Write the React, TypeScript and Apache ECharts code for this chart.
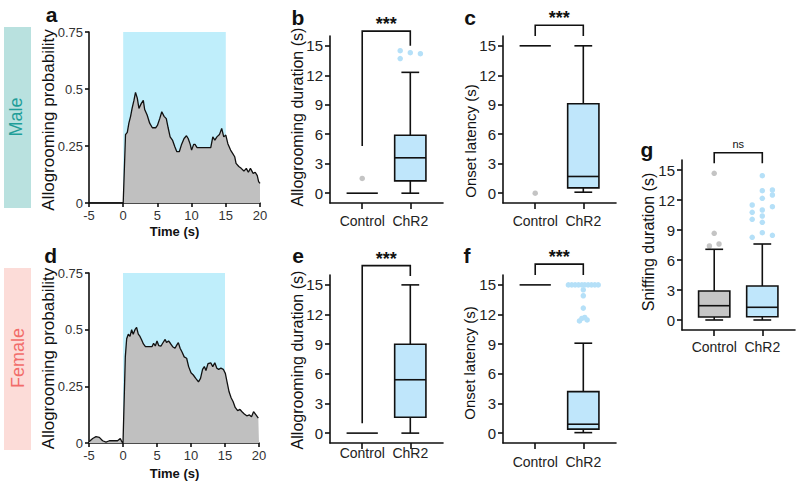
import React, { useEffect, useRef } from 'react';
import * as echarts from 'echarts';

const FONT = '"Liberation Sans", Arial, Helvetica, sans-serif';

// ---------- Panel a (male) allogrooming probability trace ----------
const maleTime = [-5, 0, 0.34, 0.6, 0.83, 1.08, 1.3, 1.57, 1.8, 2.06, 2.3, 2.65, 2.94, 3.14, 3.5, 3.87, 4.26, 4.75, 5.0, 5.34, 5.64, 5.98, 6.3, 6.57, 6.86, 7.2, 7.55, 7.84, 8.2, 8.5, 8.9, 9.25, 9.5, 9.8, 10.0, 10.3, 10.5, 10.8, 11.1, 11.6, 12.1, 12.45, 12.8, 13.1, 13.4, 13.7, 14.07, 14.4, 14.7, 15.0, 15.3, 15.7, 16.0, 16.3, 16.5, 16.9, 17.25, 17.65, 18.0, 18.3, 18.6, 19.0, 19.3, 19.6, 19.8, 20];
const maleProb = [0, 0, 0.3, 0.31, 0.35, 0.38, 0.415, 0.45, 0.485, 0.46, 0.415, 0.437, 0.45, 0.41, 0.386, 0.35, 0.33, 0.33, 0.34, 0.37, 0.4, 0.38, 0.37, 0.33, 0.29, 0.276, 0.247, 0.225, 0.225, 0.254, 0.283, 0.295, 0.283, 0.257, 0.232, 0.257, 0.257, 0.243, 0.243, 0.243, 0.243, 0.243, 0.243, 0.29, 0.276, 0.29, 0.3, 0.327, 0.29, 0.298, 0.26, 0.232, 0.218, 0.203, 0.174, 0.16, 0.152, 0.14, 0.152, 0.135, 0.152, 0.13, 0.135, 0.12, 0.094, 0.086];

// ---------- Panel d (female) allogrooming probability trace ----------
const femaleTime = [-5, -4.46, -3.97, -3.48, -3.0, -2.5, -2.0, -1.5, -0.8, -0.4, -0.15, 0, 0.34, 0.54, 0.78, 1.03, 1.27, 1.5, 1.76, 2.0, 2.25, 2.5, 2.75, 3.0, 3.3, 3.6, 4.0, 4.26, 4.5, 4.75, 5.0, 5.25, 5.6, 5.83, 6.2, 6.4, 6.7, 6.96, 7.3, 7.65, 7.9, 8.14, 8.4, 8.7, 9.0, 9.36, 9.65, 10.0, 10.34, 10.7, 11.1, 11.4, 11.7, 11.96, 12.2, 12.5, 12.9, 13.2, 13.5, 13.8, 14.07, 14.4, 14.75, 15.05, 15.3, 15.6, 15.9, 16.2, 16.5, 16.86, 17.2, 17.5, 17.84, 18.2, 18.6, 18.9, 19.2, 19.56, 19.9, 20];
const femaleProb = [0.006, 0.02, 0.028, 0.025, 0.01, 0.004, 0.01, 0.01, 0.01, 0.02, 0.004, 0, 0.38, 0.46, 0.48, 0.47, 0.5, 0.48, 0.5, 0.51, 0.48, 0.47, 0.454, 0.437, 0.425, 0.425, 0.425, 0.425, 0.44, 0.428, 0.45, 0.43, 0.428, 0.44, 0.457, 0.443, 0.45, 0.44, 0.425, 0.418, 0.432, 0.443, 0.418, 0.4, 0.38, 0.374, 0.337, 0.31, 0.3, 0.285, 0.27, 0.285, 0.325, 0.337, 0.32, 0.35, 0.354, 0.337, 0.354, 0.33, 0.325, 0.33, 0.325, 0.307, 0.27, 0.226, 0.2, 0.182, 0.157, 0.143, 0.148, 0.138, 0.128, 0.12, 0.124, 0.116, 0.138, 0.124, 0.11, 0.11];

// stimulation window (s)
const stimWindow = [0, 15];

// ---------- Box plots: [low whisker, Q1, median, Q3, high whisker] ----------
const groups = ['Control', 'ChR2'];
const yTicks = [0, 3, 6, 9, 12, 15];
const probTicks = [0, 0.25, 0.5, 0.75];

const maleDurControl = [0, 0, 0, 0, 0];
const maleDurChR2 = [0, 1.25, 3.6, 5.9, 12.3];
const maleDurControlOut = [[1, 1.5]];
const maleDurChR2Out = [[1.79, 14.5], [2.0, 14.3], [2.21, 14.2], [1.79, 13.7]];

const maleLatControl = [15, 15, 15, 15, 15];
const maleLatChR2 = [0.1, 0.54, 1.7, 9.1, 15];
const maleLatControlOut = [[1, 0]];

const femDurControl = [0, 0, 0, 0, 0];
const femDurChR2 = [0, 1.6, 5.4, 9.0, 15];

const femLatControl = [15, 15, 15, 15, 15];
const femLatChR2 = [0.05, 0.4, 0.9, 4.2, 9.1];
const femLatChR2Out = [[1.69, 15], [1.76, 15], [1.83, 15], [1.9, 15], [1.97, 15], [2.03, 15], [2.1, 15], [2.17, 15], [2.24, 15], [2.31, 15], [2.0, 14.5], [2.0, 13.9], [2.0, 12.65], [1.92, 11.35], [1.97, 11.6], [2.03, 11.7], [2.08, 11.45]];

const sniffControl = [0, 0.3, 1.43, 2.9, 7.07];
const sniffChR2 = [0, 0.33, 1.27, 3.4, 7.6];
const sniffControlOut = [[1, 14.67], [1, 8.67], [0.9, 7.4], [1.1, 7.6]];
const sniffChR2Out = [[2.0, 14.43], [2.0, 12.93], [2.21, 13.0], [2.21, 12.5], [2.0, 12.17], [1.79, 11.5], [1.79, 10.77], [2.0, 11.0], [2.21, 11.33], [2.0, 10.4], [1.79, 10.07], [2.0, 9.77], [2.0, 8.73], [1.79, 8.27], [2.21, 8.47]];

// significance brackets: [x1, leftBottom, x2, rightBottom, top], label
const brB = [1, 4.8, 2, 15.0, 16.5];
const brC = [1, 16.0, 2, 16.0, 17.1];
const brE = [1, 1.0, 2, 15.9, 16.95];
const brF = [1, 16.0, 2, 16.0, 17.1];
const brG = [1, 15.67, 2, 15.67, 16.73];

const BOX_W = 0.65;
const CAP_W = 0.37;
const X_MIN = 0.33;
const X_MAX = 2.68;

const INK = '#111';
const BLUE_FILL = '#bfe6fb';
const GREY_FILL = '#c6c6c6';
const BLUE_DOT = '#b5e0f8';
const GREY_DOT = '#c4c4c4';

function boxRender(fill: string) {
  return (params: any, api: any) => {
    const x = api.value(0);
    const lo = api.value(1), q1 = api.value(2), med = api.value(3), q3 = api.value(4), hi = api.value(5);
    const pL = api.coord([x, lo]);
    const p1 = api.coord([x, q1]);
    const pm = api.coord([x, med]);
    const p3 = api.coord([x, q3]);
    const pH = api.coord([x, hi]);
    const w = api.size([BOX_W, 0])[0];
    const cw = api.size([CAP_W, 0])[0];
    const cx = pm[0];
    const st = { stroke: INK, lineWidth: 1.6, fill: null };
    const ch: any[] = [];
    if (q1 > lo) {
      ch.push({ type: 'line', shape: { x1: cx, y1: pL[1], x2: cx, y2: p1[1] }, style: st });
      ch.push({ type: 'line', shape: { x1: cx - cw / 2, y1: pL[1], x2: cx + cw / 2, y2: pL[1] }, style: st });
    }
    if (hi > q3) {
      ch.push({ type: 'line', shape: { x1: cx, y1: pH[1], x2: cx, y2: p3[1] }, style: st });
      ch.push({ type: 'line', shape: { x1: cx - cw / 2, y1: pH[1], x2: cx + cw / 2, y2: pH[1] }, style: st });
    }
    if (q3 > q1) {
      ch.push({
        type: 'rect',
        shape: { x: cx - w / 2, y: p3[1], width: w, height: p1[1] - p3[1] },
        style: { fill, stroke: INK, lineWidth: 1.6 },
      });
    }
    ch.push({ type: 'line', shape: { x1: cx - w / 2, y1: pm[1], x2: cx + w / 2, y2: pm[1] }, style: st });
    return { type: 'group', children: ch };
  };
}

function bracketRender(label: string, fontSize: number, bold: boolean) {
  return (params: any, api: any) => {
    const a = api.coord([api.value(0), api.value(1)]);
    const b = api.coord([api.value(2), api.value(3)]);
    const t = api.coord([api.value(0), api.value(4)]);
    const st = { stroke: INK, lineWidth: 1.6, fill: null };
    return {
      type: 'group',
      children: [
        { type: 'polyline', shape: { points: [[a[0], a[1]], [a[0], t[1]], [b[0], t[1]], [b[0], b[1]]] }, style: st },
        {
          type: 'text',
          x: (a[0] + b[0]) / 2,
          y: t[1] - (bold ? 7 : 9),
          style: {
            text: label,
            fill: INK,
            fontSize,
            fontWeight: bold ? 'bold' : 'normal',
            fontFamily: FONT,
            textAlign: 'center',
            textVerticalAlign: 'middle',
          },
        },
      ],
    };
  };
}

const stimRender = (params: any, api: any) => {
  const p0 = api.coord([api.value(0), api.value(3)]);
  const p1 = api.coord([api.value(1), api.value(2)]);
  return {
    type: 'rect',
    shape: { x: p0[0], y: p0[1], width: p1[0] - p0[0], height: p1[1] - p0[1] },
    style: { fill: '#bfeefb' },
  };
};

const axisLineStyle = { color: INK, width: 1.6 };

function probX(gi: number) {
  return {
    type: 'value', gridIndex: gi, min: -5, max: 20, interval: 5,
    axisLine: { show: true, onZero: false, lineStyle: axisLineStyle },
    axisTick: { show: true, length: 4, lineStyle: axisLineStyle },
    axisLabel: { margin: 6, fontSize: 13, color: '#333', fontFamily: FONT },
    splitLine: { show: false },
  };
}
function probY(gi: number) {
  return {
    type: 'value', gridIndex: gi, min: 0, max: 0.75, interval: 0.25,
    axisLine: { show: true, onZero: false, lineStyle: axisLineStyle },
    axisTick: { show: true, length: 4, lineStyle: axisLineStyle },
    axisLabel: { margin: 6, fontSize: 13, color: '#333', fontFamily: FONT, customValues: probTicks },
    splitLine: { show: false },
  };
}
function boxX(gi: number, margin: number) {
  return {
    type: 'value', gridIndex: gi, min: X_MIN, max: X_MAX,
    axisLine: { show: true, onZero: false, lineStyle: axisLineStyle },
    axisTick: { show: true, length: 6, lineStyle: axisLineStyle, customValues: [1, 2] },
    axisLabel: {
      margin, fontSize: 14, color: '#222', fontFamily: FONT, customValues: [1, 2],
      formatter: (v: number) => groups[Math.round(v) - 1] || '',
    },
    splitLine: { show: false },
  };
}
function boxY(gi: number) {
  return {
    type: 'value', gridIndex: gi, min: -1, max: 16,
    axisLine: { show: true, onZero: false, lineStyle: axisLineStyle },
    axisTick: { show: true, length: 5, lineStyle: axisLineStyle, customValues: yTicks },
    axisLabel: { margin: 7, fontSize: 15, color: '#222', fontFamily: FONT, customValues: yTicks },
    splitLine: { show: false },
  };
}

function boxSeries(gi: number, stats: number[][], fills: string[]) {
  return stats.map((s, i) => ({
    type: 'custom', xAxisIndex: gi, yAxisIndex: gi, z: 3,
    renderItem: boxRender(fills[i]),
    data: [[i + 1, ...s]],
    silent: true,
  }));
}
function dots(gi: number, data: number[][], color: string) {
  return {
    type: 'scatter', xAxisIndex: gi, yAxisIndex: gi, z: 2,
    symbolSize: 5.5, itemStyle: { color, opacity: 1 }, data, silent: true,
  };
}
function bracket(gi: number, br: number[], label: string, fs: number, bold: boolean) {
  return {
    type: 'custom', xAxisIndex: gi, yAxisIndex: gi, z: 4, clip: false,
    renderItem: bracketRender(label, fs, bold), data: [br], silent: true,
  };
}

function txt(text: string, x: number, y: number, size: number, opts: any = {}) {
  return {
    type: 'text', x, y, rotation: opts.rot ? Math.PI / 2 : 0, z: 10,
    style: {
      text, fill: opts.color || INK, fontSize: size, fontFamily: FONT,
      fontWeight: opts.bold ? 'bold' : 'normal',
      textAlign: 'center', textVerticalAlign: 'middle',
    },
  };
}

export default function App() {
  const ref = useRef<HTMLDivElement>(null);
  useEffect(() => {
    if (!ref.current) return;
    const chart = echarts.init(ref.current, null, { renderer: 'svg' });
    const grids = [
      { left: 89, top: 32, width: 171, height: 171 }, // a
      { left: 89, top: 273, width: 170, height: 170 }, // d
      { left: 330, top: 36, width: 113, height: 167 }, // b
      { left: 503, top: 36, width: 113, height: 167 }, // c
      { left: 330, top: 275, width: 113, height: 168 }, // e
      { left: 503, top: 275, width: 113, height: 168 }, // f
      { left: 682, top: 160, width: 113, height: 170 }, // g
    ].map((g) => ({ ...g, outerBoundsMode: 'none', containLabel: false }));

    const trace = (gi: number, t: number[], v: number[]) => ({
      type: 'line', xAxisIndex: gi, yAxisIndex: gi, z: 3,
      data: t.map((x, i) => [x, v[i]]),
      showSymbol: false, symbol: 'none',
      lineStyle: { color: INK, width: 1.3 },
      areaStyle: { color: '#c0c0c0', opacity: 1 },
      silent: true,
    });
    const stim = (gi: number) => ({
      type: 'custom', xAxisIndex: gi, yAxisIndex: gi, z: 1,
      renderItem: stimRender, data: [[stimWindow[0], stimWindow[1], 0, 0.75]], silent: true,
    });

    const option: any = {
      animation: false,
      backgroundColor: '#fff',
      textStyle: { fontFamily: FONT },
      grid: grids,
      xAxis: [probX(0), probX(1), boxX(2, 11), boxX(3, 11), boxX(4, 3), boxX(5, 12), boxX(6, 10)],
      yAxis: [probY(0), probY(1), boxY(2), boxY(3), boxY(4), boxY(5), boxY(6)],
      series: [
        stim(0), trace(0, maleTime, maleProb),
        stim(1), trace(1, femaleTime, femaleProb),
        ...boxSeries(2, [maleDurControl, maleDurChR2], [BLUE_FILL, BLUE_FILL]),
        dots(2, maleDurControlOut, GREY_DOT), dots(2, maleDurChR2Out, BLUE_DOT),
        bracket(2, brB, '***', 18, true),
        ...boxSeries(3, [maleLatControl, maleLatChR2], [BLUE_FILL, BLUE_FILL]),
        dots(3, maleLatControlOut, GREY_DOT),
        bracket(3, brC, '***', 18, true),
        ...boxSeries(4, [femDurControl, femDurChR2], [BLUE_FILL, BLUE_FILL]),
        bracket(4, brE, '***', 18, true),
        ...boxSeries(5, [femLatControl, femLatChR2], [BLUE_FILL, BLUE_FILL]),
        dots(5, femLatChR2Out, BLUE_DOT),
        bracket(5, brF, '***', 18, true),
        ...boxSeries(6, [sniffControl, sniffChR2], [GREY_FILL, BLUE_FILL]),
        dots(6, sniffControlOut, GREY_DOT), dots(6, sniffChR2Out, BLUE_DOT),
        bracket(6, brG, 'ns', 11, false),
      ],
      graphic: [
        { type: 'rect', shape: { x: 4, y: 27, width: 27, height: 181 }, style: { fill: '#b9e1df' }, z: 0 },
        { type: 'rect', shape: { x: 4, y: 268, width: 27, height: 182 }, style: { fill: '#fcdcd8' }, z: 0 },
        txt('Male', 16, 117, 18, { rot: true, color: '#1f9e99' }),
        txt('Female', 17.5, 358, 18, { rot: true, color: '#f26c6a' }),
        txt('a', 51.5, 14, 21, { bold: true }),
        txt('b', 298, 17, 21, { bold: true }),
        txt('c', 470, 17, 21, { bold: true }),
        txt('d', 50.7, 255.5, 21, { bold: true }),
        txt('e', 298, 255.5, 21, { bold: true }),
        txt('f', 467, 255.5, 21, { bold: true }),
        txt('g', 647, 149, 21, { bold: true }),
        txt('Allogrooming probability', 48.5, 120, 17, { rot: true }),
        txt('Allogrooming probability', 48.5, 358.5, 17, { rot: true }),
        txt('Time (s)', 174.5, 231.5, 13, { bold: true }),
        txt('Time (s)', 174.5, 473, 13, { bold: true }),
        txt('Allogrooming duration (s)', 297.5, 117, 16, { rot: true }),
        txt('Allogrooming duration (s)', 297, 360, 16, { rot: true }),
        txt('Onset latency (s)', 470, 141, 15, { rot: true }),
        txt('Onset latency (s)', 469.5, 363, 15, { rot: true }),
        txt('Sniffing duration (s)', 648, 242, 16, { rot: true }),
      ],
    };
    chart.setOption(option);
    return () => chart.dispose();
  }, []);
  return (
    <div
      ref={ref}
      style={{ position: 'fixed', left: 0, top: 0, width: 799, height: 483, background: '#fff' }}
    />
  );
}
